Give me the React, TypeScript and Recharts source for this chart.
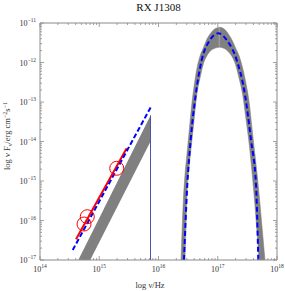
import React from 'react';
import { ComposedChart, XAxis, YAxis, Area, Line, Scatter, ReferenceLine } from 'recharts';

// ---------- data (log10 space) ----------
const TITLE = 'RX J1308';
const X_LABEL = 'log ν/Hz';
const X_MAJOR = [14, 15, 16, 17, 18];
const Y_MAJOR = [-17, -16, -15, -14, -13, -12, -11];
const MINOR_OFFSETS = [0.301, 0.477, 0.602, 0.699, 0.778, 0.845, 0.903, 0.954];

// optical/UV power-law band
const plBandX = [14.6, 15.865];
const plBandLow = [-17.73, -14.0];
const plBandHigh = [-17.14, -13.34];
// power-law model (blue dashed)
const plModelX = [14.552, 15.868];
const plModelY = [-16.747, -13.134];
// observed slope (red line)
const obsLineX = [14.608, 15.463];
const obsLineY = [-16.475, -14.17];
// observed points (red circles)
const obsPointX = [14.743, 14.798, 15.295];
const obsPointY = [-16.089, -15.904, -14.678];
// cutoff line
const cutoffX = 15.865;
const cutoffTop = -13.34;

// X-ray thermal hump band
const humpX = [16.38, 16.42, 16.45, 16.48, 16.52, 16.56, 16.6, 16.65, 16.7, 16.76, 16.82, 16.88, 16.94, 17.0, 17.03, 17.06, 17.12, 17.18, 17.24, 17.3, 17.36, 17.42, 17.48, 17.53, 17.58, 17.62, 17.66, 17.7, 17.74, 17.8];
const humpHigh = [-17.0, -15.48, -14.79, -14.32, -13.7, -13.08, -12.61, -12.14, -11.84, -11.62, -11.4, -11.26, -11.16, -11.118, -11.109, -11.115, -11.165, -11.28, -11.43, -11.63, -11.83, -12.14, -12.56, -13.01, -13.69, -14.23, -14.77, -15.37, -16.04, -17.05];
const humpLow = [-17.5, -17.5, -16.85, -15.39, -14.61, -14.03, -13.46, -12.78, -12.4, -12.02, -11.82, -11.7, -11.645, -11.62, -11.615, -11.62, -11.655, -11.73, -11.85, -12.05, -12.4, -12.81, -13.47, -14.06, -14.8, -15.48, -16.24, -17.0, -17.5, -17.5];
// thermal model (blue dashed)
const humpModelX = [16.43, 16.486, 16.543, 16.628, 16.729, 16.86, 17.009, 17.16, 17.32, 17.46, 17.561, 17.646, 17.684];
const humpModelY = [-17.0, -15.1, -13.96, -12.82, -11.94, -11.45, -11.261, -11.45, -11.94, -12.82, -13.96, -15.1, -17.0];
const peakMarkX = 17.026;
const peakMarkY = [-11.12, -11.6];

// ---------- derived tables ----------
const plBand = plBandX.map((x, i) => ({ x, y: [plBandLow[i], plBandHigh[i]] }));
const plModel = plModelX.map((x, i) => ({ x, y: plModelY[i] }));
const obsLine = obsLineX.map((x, i) => ({ x, y: obsLineY[i] }));
const obsPoints = obsPointX.map((x, i) => ({ x, y: obsPointY[i] }));
const hump = humpX.map((x, i) => ({ x, y: [humpLow[i], humpHigh[i]] }));
const humpModel = humpModelX.map((x, i) => ({ x, y: humpModelY[i] }));

const xTicks = [...X_MAJOR, ...X_MAJOR.slice(0, -1).flatMap((m) => MINOR_OFFSETS.map((o) => m + o))];
const yTicks = [...Y_MAJOR, ...Y_MAJOR.slice(0, -1).flatMap((m) => MINOR_OFFSETS.map((o) => m + o))];

const FRAME = '#8a8a8a';
const TEXT = '#333';
const FONT = '"Liberation Serif", "Times New Roman", serif';

const isMajor = (v: number) => Math.abs(v - Math.round(v)) < 1e-6;
const fmtExp = (v: number) => {
  const n = Math.round(v);
  return n < 0 ? '\u2212' + Math.abs(n) : String(n);
};

const makeTick = (side: 'bottom' | 'top' | 'left' | 'right') => (props: any) => {
  const { x, y, payload } = props;
  const v = payload.value as number;
  const major = isMajor(v);
  const len = major ? 4 : 2;
  let line: any = null;
  if (side === 'bottom') line = <line x1={x} y1={y} x2={x} y2={y - len} stroke={FRAME} strokeWidth={0.8} />;
  if (side === 'top') line = <line x1={x} y1={y} x2={x} y2={y + len} stroke={FRAME} strokeWidth={0.8} />;
  if (side === 'left') line = <line x1={x} y1={y} x2={x + len} y2={y} stroke={FRAME} strokeWidth={0.8} />;
  if (side === 'right') line = <line x1={x} y1={y} x2={x - len} y2={y} stroke={FRAME} strokeWidth={0.8} />;
  let label: any = null;
  if (major && side === 'bottom') {
    label = (
      <text x={x} y={y + 12} textAnchor="middle" fontSize={8} fill={TEXT} fontFamily={FONT}>
        10<tspan dy={-4} fontSize={5.5}>{fmtExp(v)}</tspan>
      </text>
    );
  }
  if (major && side === 'left') {
    label = (
      <text x={x - 4} y={y + 3} textAnchor="end" fontSize={8} fill={TEXT} fontFamily={FONT}>
        10<tspan dy={-4} fontSize={5.5}>{fmtExp(v)}</tspan>
      </text>
    );
  }
  return (
    <g>
      {line}
      {label}
    </g>
  );
};

const BottomTick = makeTick('bottom');
const TopTick = makeTick('top');
const LeftTick = makeTick('left');
const RightTick = makeTick('right');

const circleShape = (p: any) => (
  <circle cx={p.cx} cy={p.cy} r={7} fill="none" stroke="#ff0000" strokeWidth={1} />
);

export default function App() {
  return (
    <div style={{ position: 'absolute', left: 0, top: 0, width: 285, height: 291, background: '#fff' }}>
      <ComposedChart width={285} height={291} margin={{ top: 18, right: 3, bottom: 26, left: 35 }}>
        <XAxis xAxisId="b" dataKey="x" type="number" domain={[14, 18]} ticks={xTicks} interval={0}
          tick={BottomTick} tickLine={false} tickSize={0} tickMargin={0} height={5}
          axisLine={{ stroke: FRAME }} allowDataOverflow />
        <XAxis xAxisId="t" orientation="top" dataKey="x" type="number" domain={[14, 18]} ticks={xTicks} interval={0}
          tick={TopTick} tickLine={false} tickSize={0} tickMargin={0} height={5}
          axisLine={{ stroke: FRAME }} allowDataOverflow />
        <YAxis yAxisId="l" dataKey="y" type="number" domain={[-17, -11]} ticks={yTicks} interval={0}
          tick={LeftTick} tickLine={false} tickSize={0} tickMargin={0} width={5}
          axisLine={{ stroke: FRAME }} allowDataOverflow />
        <YAxis yAxisId="r" orientation="right" dataKey="y" type="number" domain={[-17, -11]} ticks={yTicks} interval={0}
          tick={RightTick} tickLine={false} tickSize={0} tickMargin={0} width={5}
          axisLine={{ stroke: FRAME }} allowDataOverflow />

        <Area xAxisId="b" yAxisId="l" data={plBand} dataKey="y" type="linear" fill="#808080" fillOpacity={1}
          stroke="none" isAnimationActive={false} />
        <Area xAxisId="b" yAxisId="l" data={hump} dataKey="y" type="monotone" fill="#808080" fillOpacity={1}
          stroke="#7a7a7a" strokeWidth={0.5} isAnimationActive={false} />
        <ReferenceLine xAxisId="b" yAxisId="l" segment={[{ x: peakMarkX, y: peakMarkY[0] }, { x: peakMarkX, y: peakMarkY[1] }]}
          stroke="#a8a8a8" strokeWidth={1} ifOverflow="visible" />
        <ReferenceLine xAxisId="b" yAxisId="l" segment={[{ x: cutoffX, y: -17 }, { x: cutoffX, y: cutoffTop }]}
          stroke="#5050b0" strokeWidth={1} ifOverflow="visible" />
        <Line xAxisId="b" yAxisId="l" data={obsLine} dataKey="y" type="linear" stroke="#ff0000" strokeWidth={2}
          dot={false} isAnimationActive={false} />
        <Scatter xAxisId="b" yAxisId="l" data={obsPoints} dataKey="y" shape={circleShape} isAnimationActive={false} />
        <Line xAxisId="b" yAxisId="l" data={plModel} dataKey="y" type="linear" stroke="#0000ff" strokeWidth={2}
          strokeDasharray="5 2.5" dot={false} isAnimationActive={false} />
        <Line xAxisId="b" yAxisId="l" data={humpModel} dataKey="y" type="monotone" stroke="#0000ff" strokeWidth={2}
          strokeDasharray="5 3" dot={false} isAnimationActive={false} />
      </ComposedChart>
      <svg width={285} height={291} style={{ position: 'absolute', left: 0, top: 0, pointerEvents: 'none' }}>
        <text x={158.5} y={11} textAnchor="middle" fontSize={11} fill="#111" fontFamily={FONT}>{TITLE}</text>
        <text x={150} y={288} textAnchor="middle" fontSize={8.5} fill={TEXT} fontFamily={FONT}>{X_LABEL}</text>
        <text transform="translate(10,136) rotate(-90)" textAnchor="middle" fontSize={8.5} fill={TEXT} fontFamily={FONT}>
          log ν F<tspan dy={1.5} fontSize={6}>ν</tspan><tspan dy={-1.5}>/erg cm</tspan>
          <tspan dy={-3.5} fontSize={6}>−2</tspan><tspan dy={3.5}>s</tspan>
          <tspan dy={-3.5} fontSize={6}>−1</tspan>
        </text>
      </svg>
    </div>
  );
}
